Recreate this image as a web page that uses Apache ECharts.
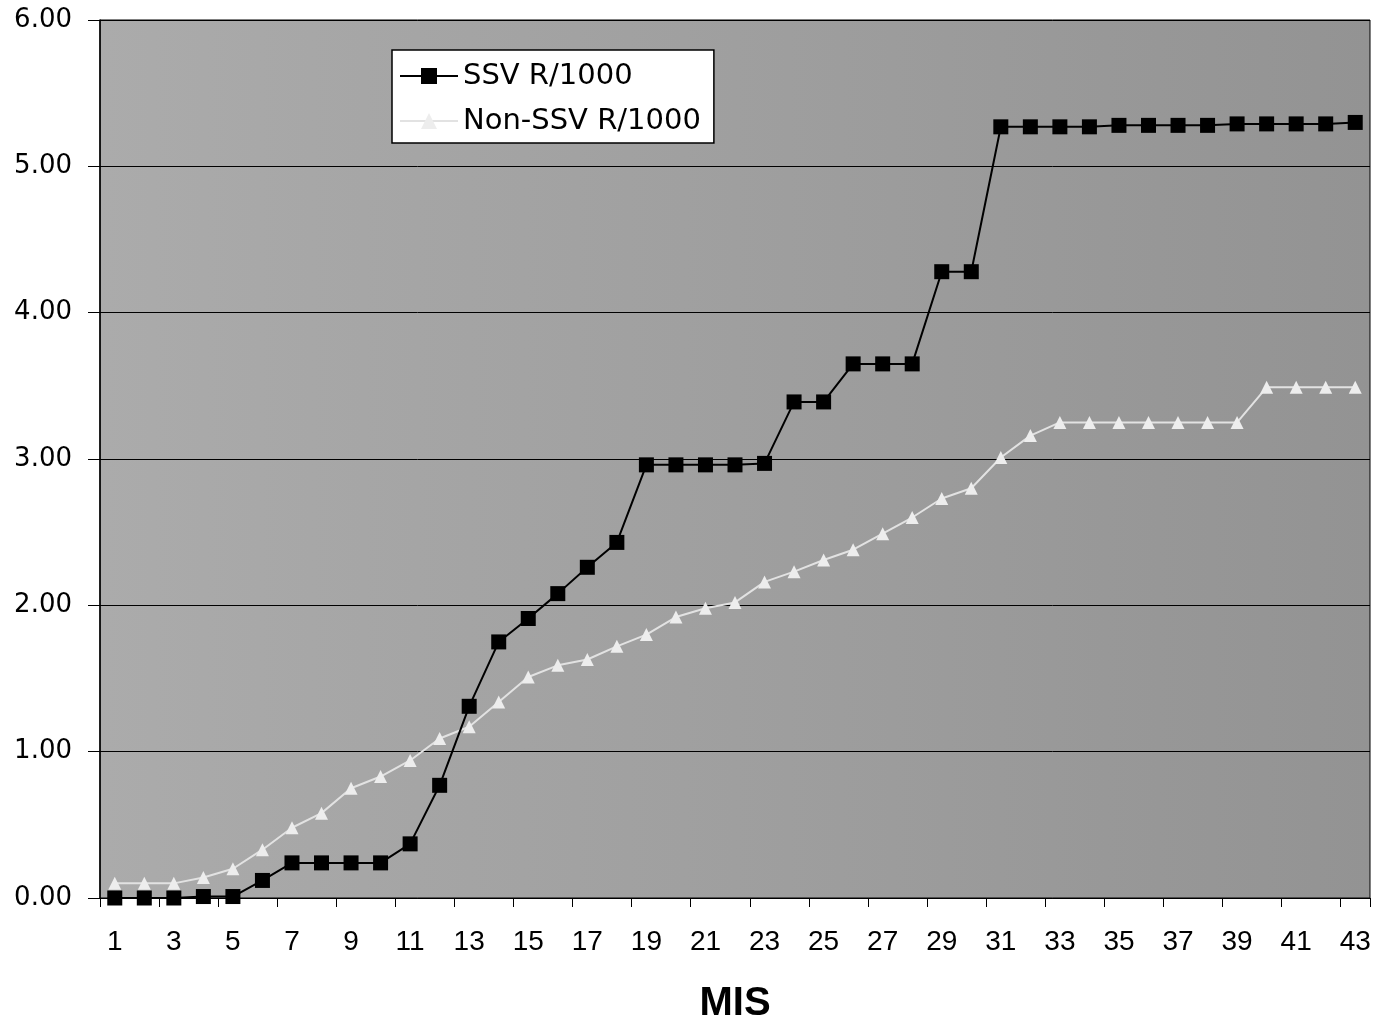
<!DOCTYPE html>
<html><head><meta charset="utf-8">
<script src="https://cdn.jsdelivr.net/npm/echarts@6/dist/echarts.min.js"></script>
<style>html,body{margin:0;padding:0;background:#fff}#c{width:1382px;height:1027px}</style>
</head><body><div id="c"></div>
<script>
const categories = Array.from({length: 43}, (_, i) => String(i + 1));
const ssv = [0, 0, 0, 0.01, 0.01, 0.12, 0.24, 0.24, 0.24, 0.24, 0.37, 0.77, 1.31, 1.75, 1.91, 2.08, 2.26, 2.43, 2.96, 2.96, 2.96, 2.96, 2.97, 3.39, 3.39, 3.65, 3.65, 3.65, 4.28, 4.28, 5.27, 5.27, 5.27, 5.27, 5.28, 5.28, 5.28, 5.28, 5.29, 5.29, 5.29, 5.29, 5.30];
const nonSsv = [0.10, 0.10, 0.10, 0.14, 0.20, 0.33, 0.48, 0.58, 0.75, 0.83, 0.94, 1.09, 1.17, 1.34, 1.51, 1.59, 1.63, 1.72, 1.80, 1.92, 1.98, 2.02, 2.16, 2.23, 2.31, 2.38, 2.49, 2.60, 2.73, 2.80, 3.01, 3.16, 3.25, 3.25, 3.25, 3.25, 3.25, 3.25, 3.25, 3.49, 3.49, 3.49, 3.49];
const yTicks = [0, 1, 2, 3, 4, 5, 6];

const chart = echarts.init(document.getElementById('c'));
chart.setOption({
  animation: false,
  backgroundColor: '#ffffff',
  grid: {
    left: 100, right: 12, top: 20, bottom: 129, show: true, containLabel: false, outerBoundsMode: 'none',
    backgroundColor: new echarts.graphic.LinearGradient(0, 0, 1, 0, [
      {offset: 0, color: '#ababab'}, {offset: 1, color: '#939393'}
    ]),
    borderColor: '#000', borderWidth: 1
  },
  legend: {
    left: 392, top: 50, orient: 'vertical', backgroundColor: '#ffffff', borderColor: '#000', borderWidth: 1.5,
    padding: [8, 13, 4, 7], itemGap: 9, itemWidth: 58, itemHeight: 20,
    textStyle: {fontFamily: 'DejaVu Sans', fontSize: 29, lineHeight: 36, color: '#000'},
    data: ['SSV R/1000', 'Non-SSV R/1000']
  },
  xAxis: {
    type: 'category', data: categories, boundaryGap: true,
    name: 'MIS', nameLocation: 'middle', nameGap: 86,
    nameTextStyle: {fontFamily: 'Liberation Sans', fontWeight: 'bold', fontSize: 40, color: '#000'},
    axisLine: {lineStyle: {color: '#000', width: 1}},
    axisTick: {show: true, alignWithLabel: false, length: 9, lineStyle: {color: '#000'}},
    axisLabel: {interval: 1, margin: 30, fontFamily: 'Liberation Sans', fontSize: 28, color: '#000'},
    splitLine: {show: false}
  },
  yAxis: {
    type: 'value', min: yTicks[0], max: yTicks[yTicks.length - 1], interval: 1,
    axisLine: {show: true, lineStyle: {color: '#000', width: 1.5}},
    axisTick: {show: true, length: 12, lineStyle: {color: '#000'}},
    axisLabel: {margin: 28, fontFamily: 'DejaVu Sans', fontSize: 26, color: '#000', formatter: v => v.toFixed(2)},
    splitLine: {show: true, lineStyle: {color: '#000', width: 1}}
  },
  series: [
    {
      name: 'SSV R/1000', type: 'line', data: ssv, symbol: 'rect', symbolSize: 15,
      lineStyle: {color: '#000', width: 2}, itemStyle: {color: '#000'}, z: 3
    },
    {
      name: 'Non-SSV R/1000', type: 'line', data: nonSsv, symbol: 'triangle', symbolSize: 13,
      lineStyle: {color: '#e2e2e2', width: 2}, itemStyle: {color: '#ededed'}, z: 2
    }
  ]
});
</script></body></html>
